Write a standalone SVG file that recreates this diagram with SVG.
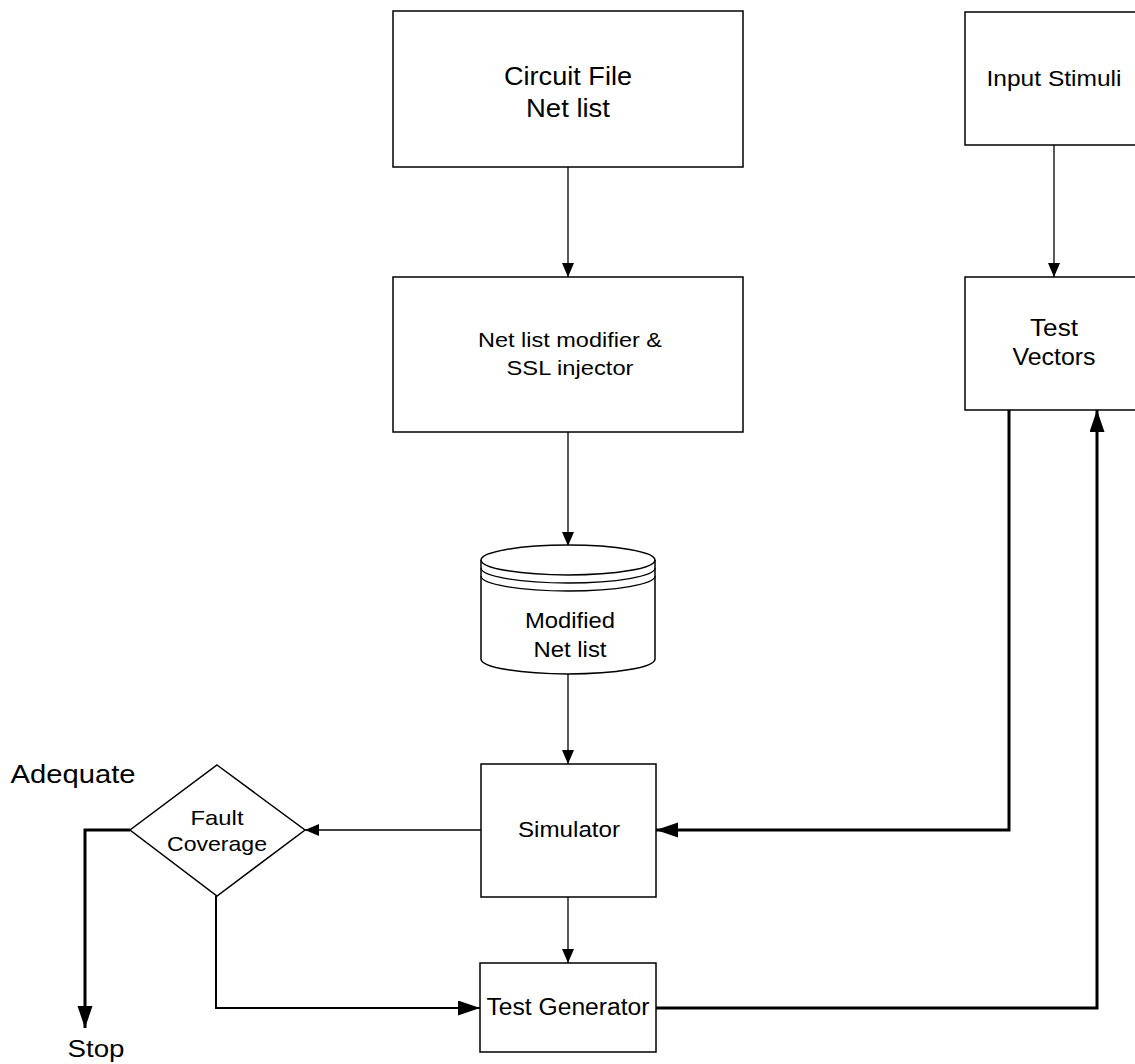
<svg xmlns="http://www.w3.org/2000/svg" width="1135" height="1064" viewBox="0 0 1135 1064">
<style>
.box{fill:#fff;stroke:#000;stroke-width:1.5}
.t{font-family:"Liberation Sans",Arial,sans-serif;fill:#000;text-anchor:middle}
.thin{fill:none;stroke:#000;stroke-width:1.3}
.med{fill:none;stroke:#000;stroke-width:2}
.bold{fill:none;stroke:#000;stroke-width:3}
</style>
<defs>
<marker id="sa" markerUnits="userSpaceOnUse" markerWidth="15" markerHeight="13" refX="14" refY="6" orient="auto"><path d="M0,0 L14,6 L0,12 z" fill="#000"/></marker>
<marker id="ba" markerUnits="userSpaceOnUse" markerWidth="23" markerHeight="16" refX="22" refY="7.5" orient="auto"><path d="M0,0 L22,7.5 L0,15 z" fill="#000"/></marker>
</defs>
<rect width="1135" height="1064" fill="#fff"/>
<g id="connectors">
<path class="thin" d="M568,167 L568,277" marker-end="url(#sa)"/>
<path class="thin" d="M568,432 L568,546" marker-end="url(#sa)"/>
<path class="thin" d="M568,674 L568,764" marker-end="url(#sa)"/>
<path class="thin" d="M481,830 L305,830" marker-end="url(#sa)"/>
<path class="thin" d="M568,897 L568,963" marker-end="url(#sa)"/>
<path class="thin" d="M1054,145 L1054,277" marker-end="url(#sa)"/>
<path class="bold" d="M1009,410 L1009,830 L656,830" marker-end="url(#ba)"/>
<path class="bold" d="M656,1008 L1097,1008 L1097,410" marker-end="url(#ba)"/>
<path class="bold" d="M130,830 L85,830 L85,1028" marker-end="url(#ba)"/>
<path class="med" d="M216,896 L216,1008 L480,1008" marker-end="url(#ba)"/>
</g>
<g id="circuit-file">
<rect class="box" x="393" y="11" width="350" height="156"/>
<text class="t" x="568" y="85" font-size="26" textLength="128" lengthAdjust="spacingAndGlyphs">Circuit File</text>
<text class="t" x="568" y="117" font-size="26" textLength="84" lengthAdjust="spacingAndGlyphs">Net list</text>
</g>
<g id="netlist-modifier">
<rect class="box" x="393" y="277" width="350" height="155"/>
<text class="t" x="570" y="347" font-size="21" textLength="184" lengthAdjust="spacingAndGlyphs">Net list modifier &amp;</text>
<text class="t" x="570" y="375" font-size="21" textLength="127" lengthAdjust="spacingAndGlyphs">SSL injector</text>
</g>
<g id="input-stimuli">
<rect class="box" x="965" y="12" width="180" height="133"/>
<text class="t" x="1054" y="86" font-size="22" textLength="135" lengthAdjust="spacingAndGlyphs">Input Stimuli</text>
</g>
<g id="test-vectors">
<rect class="box" x="965" y="277" width="180" height="133"/>
<text class="t" x="1054" y="336" font-size="23" textLength="48" lengthAdjust="spacingAndGlyphs">Test</text>
<text class="t" x="1054" y="365" font-size="23" textLength="83" lengthAdjust="spacingAndGlyphs">Vectors</text>
</g>
<g id="modified-netlist">
<path class="box" d="M481,560 L481,659 A87,15 0 0 0 655,659 L655,560"/>
<ellipse class="box" cx="568" cy="560" rx="87" ry="15"/>
<path class="thin" d="M481,568 A87,15 0 0 0 655,568"/>
<path class="thin" d="M481,576 A87,15 0 0 0 655,576"/>
<text class="t" x="570" y="628" font-size="22" textLength="90" lengthAdjust="spacingAndGlyphs">Modified</text>
<text class="t" x="570" y="657" font-size="22" textLength="73" lengthAdjust="spacingAndGlyphs">Net list</text>
</g>
<g id="simulator">
<rect class="box" x="481" y="764" width="175" height="133"/>
<text class="t" x="569" y="837" font-size="22" textLength="102" lengthAdjust="spacingAndGlyphs">Simulator</text>
</g>
<g id="fault-coverage">
<polygon class="box" points="217,765 305,830 217,896 130,830"/>
<text class="t" x="217" y="825" font-size="21" textLength="53" lengthAdjust="spacingAndGlyphs">Fault</text>
<text class="t" x="217" y="851" font-size="21" textLength="100" lengthAdjust="spacingAndGlyphs">Coverage</text>
</g>
<g id="test-generator">
<rect class="box" x="480" y="963" width="176" height="89"/>
<text class="t" x="568" y="1015" font-size="23" textLength="163" lengthAdjust="spacingAndGlyphs">Test Generator</text>
</g>
<g id="labels">
<text class="t" x="73" y="783" font-size="25" textLength="125" lengthAdjust="spacingAndGlyphs">Adequate</text>
<text class="t" x="96" y="1057" font-size="24" textLength="57" lengthAdjust="spacingAndGlyphs">Stop</text>
</g>
</svg>
